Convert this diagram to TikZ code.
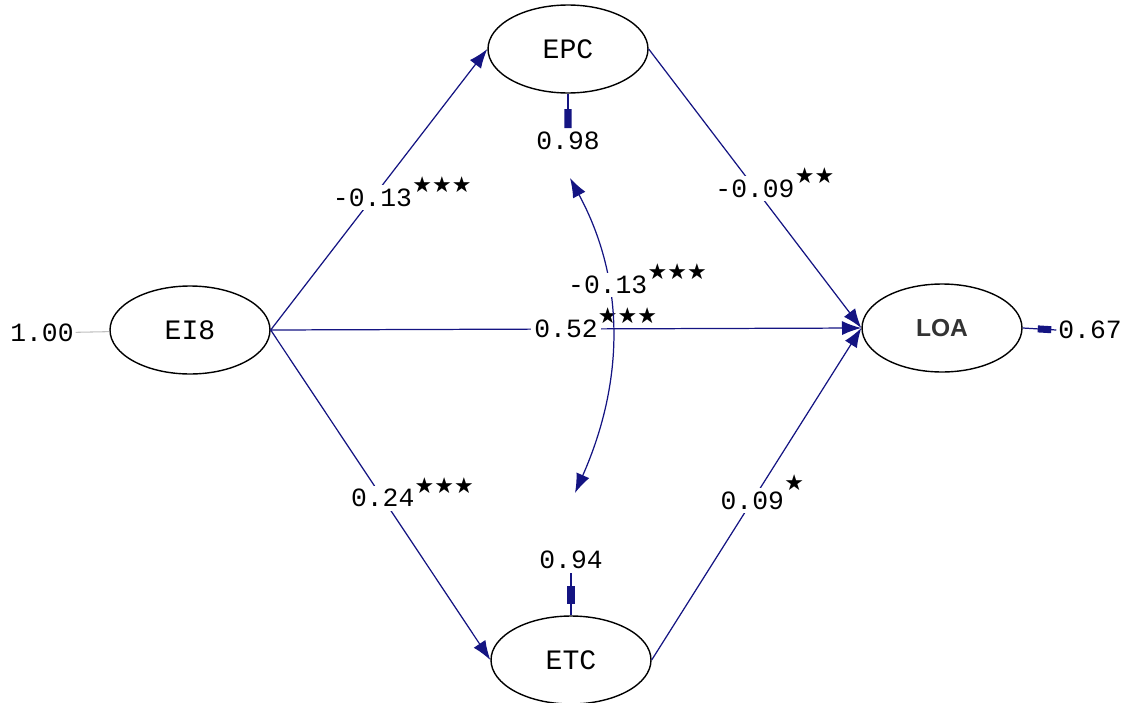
\documentclass[tikz,border=0pt]{standalone}
\usepackage{fontspec}
\setmonofont{Liberation Mono}
\newfontfamily\symfont{DejaVu Sans}
\newfontfamily\loafont{Liberation Sans}
\usetikzlibrary{shapes.geometric,arrows.meta,calc}
\definecolor{pathblue}{RGB}{20,20,130}
\tikzset{
  lv/.style={ellipse,draw,line width=0.8pt,minimum width=3.2cm,minimum height=1.76cm,inner sep=0pt,font=\ttfamily\fontsize{16}{16}\selectfont},
  coef/.style={fill=white,inner sep=2pt,font=\ttfamily\fontsize{15}{15}\selectfont},
  sig/.style={anchor=west,inner sep=0pt,xshift=-2.5pt,font=\symfont\fontsize{12.5}{12.5}\selectfont},
  reg/.style={draw=pathblue,line width=0.7pt,-{Latex[length=11pt,width=8pt]}},
  errblock/.style={pathblue,line width=4pt},
}
\begin{document}
\begin{tikzpicture}[x=0.02cm,y=-0.02cm]
  \useasboundingbox (0,0) rectangle (1136,703);
  % latent variables
  \node[lv] (EI8) at (190,330) {EI8};
  \node[lv] (EPC) at (568,49) {EPC};
  \node[lv] (ETC) at (571,660) {ETC};
  \node[lv,font=\loafont\bfseries\fontsize{14}{14}\selectfont,text=black!80] (LOA) at (942,328) {LOA};
  % error terms
  \node[coef,fill=none,inner sep=1pt] (e0) at (42,333) {1.00};
  \node[coef] (e1) at (568,141) {0.98};
  \node[coef] (e2) at (571,560) {0.94};
  \node[coef,inner sep=1pt] (e3) at (1090,330) {0.67};
  \draw[gray!50,line width=0.6pt] (e0) -- (EI8);
  \foreach \v/\e/\a/\b in {EPC.south/e1.north/0.45/1, ETC.north/e2.south/0.27/0.7, LOA.east/e3.west/0.45/0.85} {
    \draw[pathblue,line width=0.7pt] (\v) -- (\e);
    \draw[errblock] ($(\v)!\a!(\e)$) -- ($(\v)!\b!(\e)$);
  }
  % paths
  \draw[reg] (EI8.east) -- (EPC.west) node[coef,pos=0.47,label={[sig]north east:★★★}] (b1) {-0.13};
  \draw[reg] (EI8.east) -- (ETC.west) node[coef,pos=0.51,label={[sig]north east:★★★}] (b2) {0.24};
  \draw[reg] (EI8.east) -- (LOA.west) node[coef,pos=0.5,label={[sig]north east:★★★}] (b3) {0.52};
  \draw[reg] (EPC.east) -- (LOA.west) node[coef,pos=0.5,label={[sig]north east:★★}] (b4) {-0.09};
  \draw[reg] (ETC.east) -- (LOA.west) node[coef,pos=0.48,label={[sig,yshift=3pt]north east:★}] (b5) {0.09};
  % covariance of the errors
  \coordinate (c1) at (570,178);
  \coordinate (c2) at (575,493);
  \draw[reg,{Latex[length=11pt,width=8pt]}-{Latex[length=11pt,width=8pt]}] (c1) .. controls (625,280) and (625,380) .. (c2)
    node[coef,pos=0.35,label={[sig]north east:★★★}] (r1) {-0.13};
\end{tikzpicture}
\end{document}
